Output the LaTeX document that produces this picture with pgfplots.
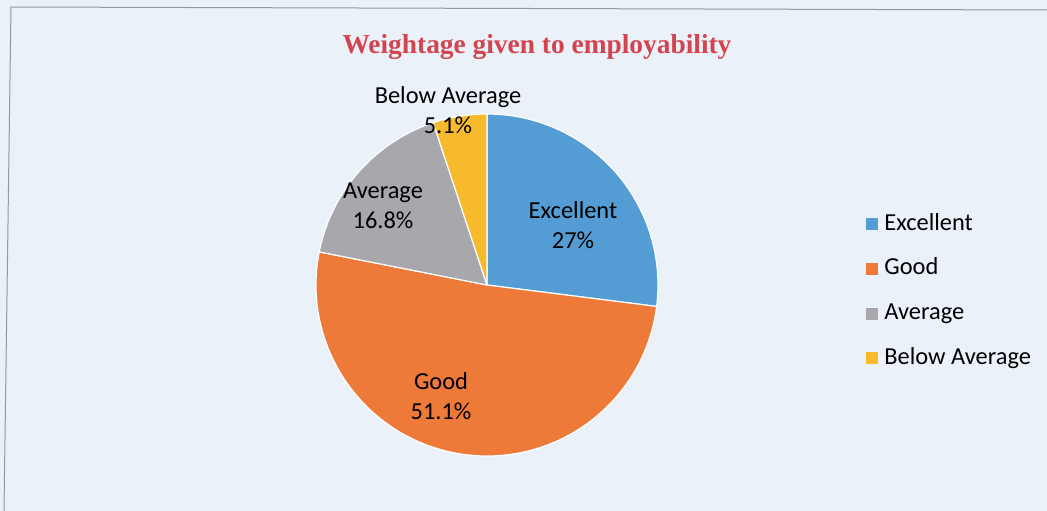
\documentclass[border=0pt]{standalone}
\usepackage{fontspec}
\setmainfont{Carlito}
\newfontfamily\titlefont{Liberation Serif}
\usepackage{pgfplots}
\usepackage{pgfplotstable}
\pgfplotsset{compat=1.18}
\definecolor{cExc}{RGB}{84,156,212}
\definecolor{cGood}{RGB}{238,122,58}
\definecolor{cAvg}{RGB}{168,168,172}
\definecolor{cBel}{RGB}{246,186,44}
\definecolor{bgc}{RGB}{235,241,249}
\definecolor{titlered}{RGB}{212,68,78}
\definecolor{framec}{RGB}{150,152,158}

\pgfplotstableread{
label value
Excellent 27
Good 51.1
Average 16.8
BelowAverage 5.1
}\piedata

% one slice: #1 start angle, #2 end angle, #3 colour
\newcommand\pieslice[3]{%
  \edef\temp{\noexpand\addplot[fill=#3, draw=white, line width=1.2bp,
    domain=#1-2:#2+2, samples=420]
    ({487+(((x<#1-1) || (x>#2+1)) ? 0 : 171)*cos(min(max(x,#1),#2))},
     {226+(((x<#1-1) || (x>#2+1)) ? 0 : 171)*sin(min(max(x,#1),#2))});}%
  \temp
}

\begin{document}
\pgfplotstablegetelem{0}{value}\of\piedata \pgfmathsetmacro\vA{\pgfplotsretval}%
\pgfplotstablegetelem{1}{value}\of\piedata \pgfmathsetmacro\vB{\pgfplotsretval}%
\pgfplotstablegetelem{2}{value}\of\piedata \pgfmathsetmacro\vC{\pgfplotsretval}%
\pgfplotstablegetelem{3}{value}\of\piedata \pgfmathsetmacro\vD{\pgfplotsretval}%
\pgfmathsetmacro\eA{90}%
\pgfmathsetmacro\sA{\eA-3.6*\vA}%
\pgfmathsetmacro\sB{\sA-3.6*\vB}%
\pgfmathsetmacro\sC{\sB-3.6*\vC}%
\pgfmathsetmacro\sD{\sC-3.6*\vD}%
\begin{tikzpicture}
\useasboundingbox (0,0) rectangle (1047bp,511bp);
\fill[bgc] (0,0) rectangle (1047bp,511bp);
\draw[framec, line width=1bp] (4bp,0) -- (11bp,504bp) -- (1047bp,501bp);
\begin{axis}[
  at={(0,0)}, anchor=south west,
  scale only axis, width=1047bp, height=511bp,
  xmin=0, xmax=1047, ymin=0, ymax=511,
  hide axis, clip=false,
  legend image code/.code={\path (0bp,0bp) -- (18bp,0bp);\fill[#1,draw=none] (0bp,-6bp) rectangle (12bp,6bp);},
  legend cell align=left,
  legend style={at={(axis cs:862,300)}, anchor=north west, draw=none, fill=none,
    font=\fontsize{24.5}{28}\selectfont,
    nodes={inner sep=0pt, text height=17bp, text depth=5bp},
    row sep=22.7bp},
]
\pieslice{\sA}{\eA}{cExc}
\addlegendentry{Excellent}
\pieslice{\sB}{\sA}{cGood}
\addlegendentry{Good}
\pieslice{\sC}{\sB}{cAvg}
\addlegendentry{Average}
\pieslice{\sD}{\sC}{cBel}
\addlegendentry{Below Average}

\node[text=titlered, font=\titlefont\bfseries\fontsize{27.5}{30}\selectfont]
  at (axis cs:537,464) {Weightage given to employability};
\node[align=center, font=\fontsize{24.5}{30}\selectfont] at (axis cs:573,286) {Excellent\\27\%};
\node[align=center, font=\fontsize{24.5}{30}\selectfont] at (axis cs:441,115) {Good\\51.1\%};
\node[align=center, font=\fontsize{24.5}{30}\selectfont] at (axis cs:383,305) {Average\\16.8\%};
\node[align=center, font=\fontsize{24.5}{30}\selectfont] at (axis cs:448,401) {Below Average\\5.1\%};
\end{axis}
\end{tikzpicture}
\end{document}
